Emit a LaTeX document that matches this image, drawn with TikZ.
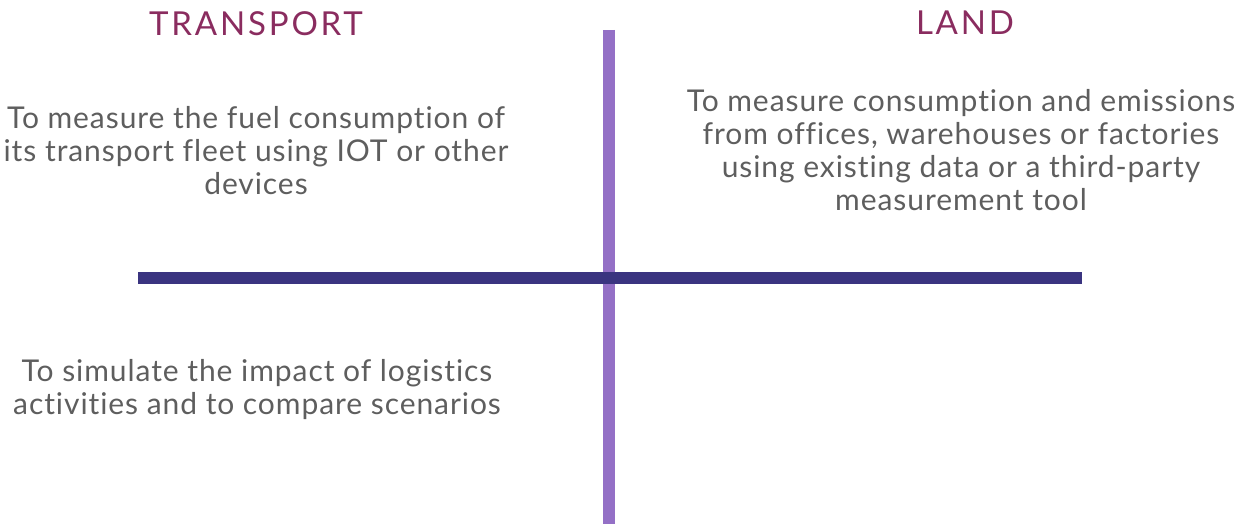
\documentclass[tikz,border=0pt]{standalone}
\usepackage{fontspec}
\setmainfont{Lato}
\newfontfamily\titlefont[LetterSpace=8.5,Ligatures=NoCommon]{Lato}
\newfontfamily\bodyfont[LetterSpace=3.1,Ligatures=NoCommon]{Lato}
\definecolor{titlecol}{HTML}{8A2C5F}
\definecolor{bodycol}{HTML}{5E5E5E}
\definecolor{vcol}{HTML}{9470C6}
\definecolor{hcol}{HTML}{3A3480}
\begin{document}
\begin{tikzpicture}[x=1pt,y=-1pt,
  title/.style={anchor=base,inner sep=0pt,text=titlecol,font=\titlefont\fontsize{33}{33}\selectfont},
  body/.style={anchor=base,inner sep=0pt,text=bodycol,align=center,font=\bodyfont\fontsize{30}{33}\selectfont},
  vaxis/.style={draw=vcol,line width=11.5pt},
  haxis/.style={draw=hcol,line width=12pt}]
\useasboundingbox (0,0) rectangle (1245,526);
\coordinate (vtop) at (609,30);
\coordinate (vbot) at (609,524);
\coordinate (hl) at (138,278);
\coordinate (hr) at (1082,278);
\draw[vaxis] (vtop) -- (vbot);
\draw[haxis] (hl) -- (hr);
\node[title] (transport) at (256,36) {TRANSPORT};
\node[title] (land) at (965,35) {LAND};
\node[body] (tl) at (256,195) {To measure the fuel consumption of\\its transport fleet using IOT or other\\devices};
\node[body] (tr) at (961,211) {To measure consumption and emissions\\from offices, warehouses or factories\\using existing data or a third-party\\measurement tool};
\node[body] (bl) at (257,415) {To simulate the impact of logistics\\activities and to compare scenarios};
\end{tikzpicture}
\end{document}
